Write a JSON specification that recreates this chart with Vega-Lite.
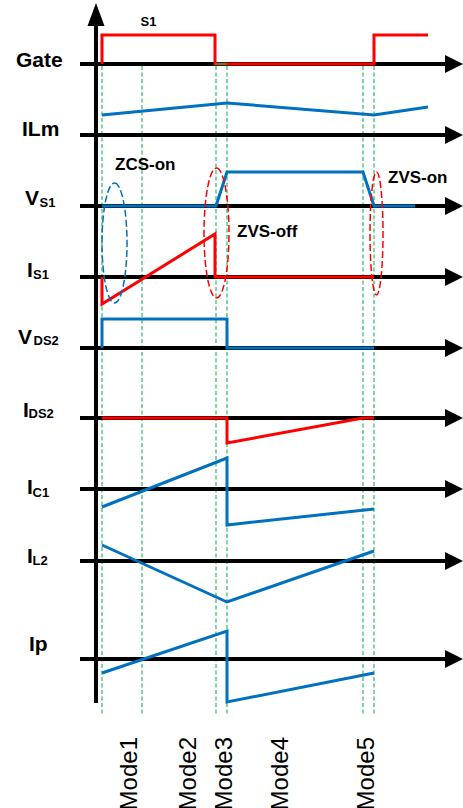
{
  "$schema": "https://vega.github.io/schema/vega-lite/v6.json",
  "width": 463,
  "height": 808,
  "padding": 0,
  "autosize": {"type": "none"},
  "background": "white",
  "config": {"view": {"stroke": null}},
  "datasets": {
    "axes": [
      {"name": "Gate", "y": 64, "x0": 80, "x1": 448, "xa": 454},
      {"name": "ILm", "y": 135, "x0": 80, "x1": 448, "xa": 454},
      {"name": "VS1", "y": 206, "x0": 80, "x1": 448, "xa": 454},
      {"name": "IS1", "y": 277, "x0": 80, "x1": 448, "xa": 454},
      {"name": "VDS2", "y": 348, "x0": 80, "x1": 448, "xa": 454},
      {"name": "IDS2", "y": 418, "x0": 80, "x1": 448, "xa": 454},
      {"name": "IC1", "y": 489, "x0": 80, "x1": 448, "xa": 454},
      {"name": "IL2", "y": 561, "x0": 80, "x1": 448, "xa": 454},
      {"name": "Ip", "y": 659, "x0": 80, "x1": 448, "xa": 454}
    ],
    "vaxis": [{"x": 96, "y0": 24, "y1": 703, "ya": 14.5}],
    "modes": [
      {"t": 102, "y0": 66, "y1": 715},
      {"t": 142, "y0": 66, "y1": 715},
      {"t": 216, "y0": 66, "y1": 715},
      {"t": 227, "y0": 66, "y1": 715},
      {"t": 363, "y0": 66, "y1": 715},
      {"t": 374, "y0": 66, "y1": 715}
    ],
    "greenseg": [{"t0": 215, "t1": 227, "y": 64}],
    "waves": [
      {"signal": "Gate", "i": 0, "t": 102, "y": 64},
      {"signal": "Gate", "i": 1, "t": 102, "y": 35},
      {"signal": "Gate", "i": 2, "t": 215, "y": 35},
      {"signal": "Gate", "i": 3, "t": 215, "y": 64},
      {"signal": "Gate", "i": 4, "t": 374, "y": 64},
      {"signal": "Gate", "i": 5, "t": 374, "y": 35},
      {"signal": "Gate", "i": 6, "t": 428, "y": 35},
      {"signal": "ILm", "i": 0, "t": 102, "y": 115},
      {"signal": "ILm", "i": 1, "t": 227, "y": 103},
      {"signal": "ILm", "i": 2, "t": 374, "y": 115},
      {"signal": "ILm", "i": 3, "t": 428, "y": 107},
      {"signal": "VS1", "i": 0, "t": 102, "y": 206},
      {"signal": "VS1", "i": 1, "t": 216, "y": 206},
      {"signal": "VS1", "i": 2, "t": 227, "y": 172},
      {"signal": "VS1", "i": 3, "t": 363, "y": 172},
      {"signal": "VS1", "i": 4, "t": 374, "y": 206},
      {"signal": "VS1", "i": 5, "t": 415, "y": 206},
      {"signal": "IS1", "i": 0, "t": 102, "y": 277},
      {"signal": "IS1", "i": 1, "t": 102, "y": 304},
      {"signal": "IS1", "i": 2, "t": 215, "y": 234},
      {"signal": "IS1", "i": 3, "t": 215, "y": 277},
      {"signal": "IS1", "i": 4, "t": 374, "y": 277},
      {"signal": "VDS2", "i": 0, "t": 102, "y": 348},
      {"signal": "VDS2", "i": 1, "t": 102, "y": 319},
      {"signal": "VDS2", "i": 2, "t": 227, "y": 319},
      {"signal": "VDS2", "i": 3, "t": 227, "y": 348},
      {"signal": "VDS2", "i": 4, "t": 374, "y": 348},
      {"signal": "IDS2", "i": 0, "t": 102, "y": 418},
      {"signal": "IDS2", "i": 1, "t": 227, "y": 418},
      {"signal": "IDS2", "i": 2, "t": 227, "y": 443},
      {"signal": "IDS2", "i": 3, "t": 363, "y": 418},
      {"signal": "IDS2", "i": 4, "t": 374, "y": 418},
      {"signal": "IC1", "i": 0, "t": 102, "y": 507},
      {"signal": "IC1", "i": 1, "t": 227, "y": 458},
      {"signal": "IC1", "i": 2, "t": 227, "y": 525},
      {"signal": "IC1", "i": 3, "t": 374, "y": 509},
      {"signal": "IL2", "i": 0, "t": 102, "y": 545},
      {"signal": "IL2", "i": 1, "t": 227, "y": 602},
      {"signal": "IL2", "i": 2, "t": 374, "y": 551},
      {"signal": "Ip", "i": 0, "t": 102, "y": 673},
      {"signal": "Ip", "i": 1, "t": 227, "y": 631},
      {"signal": "Ip", "i": 2, "t": 227, "y": 702},
      {"signal": "Ip", "i": 3, "t": 374, "y": 673}
    ],
    "labels": [
      {"text": "Gate", "x": 16, "y": 67},
      {"text": "ILm", "x": 22, "y": 136},
      {"text": "V", "x": 25, "y": 205},
      {"text": "I", "x": 27, "y": 277},
      {"text": "V", "x": 18, "y": 344},
      {"text": "I", "x": 23, "y": 417},
      {"text": "I", "x": 27, "y": 494},
      {"text": "I", "x": 27, "y": 563},
      {"text": "Ip", "x": 29, "y": 651}
    ],
    "subs": [
      {"text": "S1", "x": 39.5, "y": 207},
      {"text": "S1", "x": 33, "y": 279},
      {"text": "DS2", "x": 33.5, "y": 345},
      {"text": "DS2", "x": 28.5, "y": 418},
      {"text": "C1", "x": 32.5, "y": 497},
      {"text": "L2", "x": 32.5, "y": 565}
    ],
    "notes": [
      {"text": "ZCS-on", "x": 115, "y": 170},
      {"text": "ZVS-off", "x": 237, "y": 237},
      {"text": "ZVS-on", "x": 388, "y": 183}
    ],
    "s1": [{"text": "S1", "x": 140.5, "y": 26}],
    "modelabels": [
      {"text": "Mode1", "x": 130, "y": 737},
      {"text": "Mode2", "x": 188.5, "y": 737},
      {"text": "Mode3", "x": 225, "y": 737},
      {"text": "Mode4", "x": 281, "y": 737},
      {"text": "Mode5", "x": 366.5, "y": 737}
    ],
    "ellBlue": [{"x": 114.5, "y": 243}],
    "ellRed1": [{"x": 216.5, "y": 233}],
    "ellRed2": [{"x": 376.5, "y": 233.5}]
  },
  "layer": [
    {
      "data": {"name": "modes"},
      "mark": {"type": "rule", "color": "#00B050", "strokeWidth": 1.2, "strokeDash": [4, 2.5], "opacity": 0.85},
      "encoding": {
        "x": {"field": "t", "type": "quantitative", "scale": {"domain": [0, 463], "nice": false, "zero": false}, "axis": null},
        "y": {"field": "y0", "type": "quantitative", "scale": {"domain": [0, 808], "reverse": true, "nice": false, "zero": false}, "axis": null},
        "y2": {"field": "y1"}
      }
    },
    {
      "data": {"name": "axes"},
      "mark": {"type": "rule", "color": "black", "strokeWidth": 4},
      "encoding": {
        "x": {"field": "x0", "type": "quantitative", "scale": {"domain": [0, 463], "nice": false, "zero": false}, "axis": null},
        "x2": {"field": "x1"},
        "y": {"field": "y", "type": "quantitative", "scale": {"domain": [0, 808], "reverse": true, "nice": false, "zero": false}, "axis": null}
      }
    },
    {
      "data": {"name": "vaxis"},
      "mark": {"type": "rule", "color": "black", "strokeWidth": 4},
      "encoding": {
        "x": {"field": "x", "type": "quantitative", "scale": {"domain": [0, 463], "nice": false, "zero": false}, "axis": null},
        "y": {"field": "y0", "type": "quantitative", "scale": {"domain": [0, 808], "reverse": true, "nice": false, "zero": false}, "axis": null},
        "y2": {"field": "y1"}
      }
    },
    {
      "data": {"name": "axes"},
      "mark": {"type": "point", "shape": "M-1,-1L1,0L-1,1Z", "size": 324, "filled": true, "color": "black", "opacity": 1, "strokeWidth": 0},
      "encoding": {
        "x": {"field": "xa", "type": "quantitative", "scale": {"domain": [0, 463], "nice": false, "zero": false}, "axis": null},
        "y": {"field": "y", "type": "quantitative", "scale": {"domain": [0, 808], "reverse": true, "nice": false, "zero": false}, "axis": null}
      }
    },
    {
      "data": {"name": "vaxis"},
      "mark": {"type": "point", "shape": "M-0.74,1L0,-1L0.74,1Z", "size": 529, "filled": true, "color": "black", "opacity": 1, "strokeWidth": 0},
      "encoding": {
        "x": {"field": "x", "type": "quantitative", "scale": {"domain": [0, 463], "nice": false, "zero": false}, "axis": null},
        "y": {"field": "ya", "type": "quantitative", "scale": {"domain": [0, 808], "reverse": true, "nice": false, "zero": false}, "axis": null}
      }
    },
    {
      "data": {"name": "waves"},
      "mark": {"type": "line", "strokeWidth": 3, "strokeJoin": "miter", "strokeCap": "butt"},
      "encoding": {
        "x": {"field": "t", "type": "quantitative", "scale": {"domain": [0, 463], "nice": false, "zero": false}, "axis": null},
        "y": {"field": "y", "type": "quantitative", "scale": {"domain": [0, 808], "reverse": true, "nice": false, "zero": false}, "axis": null},
        "order": {"field": "i", "type": "quantitative"},
        "detail": {"field": "signal", "type": "nominal"},
        "color": {
          "field": "signal", "type": "nominal", "legend": null,
          "scale": {
            "domain": ["Gate", "ILm", "VS1", "IS1", "VDS2", "IDS2", "IC1", "IL2", "Ip"],
            "range": ["#FF0000", "#0070C0", "#0070C0", "#FF0000", "#0070C0", "#FF0000", "#0070C0", "#0070C0", "#0070C0"]
          }
        }
      }
    },
    {
      "data": {"name": "greenseg"},
      "mark": {"type": "rule", "color": "#00B050", "strokeWidth": 1.5},
      "encoding": {
        "x": {"field": "t0", "type": "quantitative", "scale": {"domain": [0, 463], "nice": false, "zero": false}, "axis": null},
        "x2": {"field": "t1"},
        "y": {"field": "y", "type": "quantitative", "scale": {"domain": [0, 808], "reverse": true, "nice": false, "zero": false}, "axis": null}
      }
    },
    {
      "data": {"name": "ellBlue"},
      "mark": {"type": "point", "shape": "M0,-1C0.115,-1,0.2083,-0.5523,0.2083,0C0.2083,0.5523,0.115,1,0,1C-0.115,1,-0.2083,0.5523,-0.2083,0C-0.2083,-0.5523,-0.115,-1,0,-1Z", "size": 14400, "filled": false, "stroke": "#0070C0", "strokeWidth": 1.5, "strokeDash": [7, 3], "opacity": 1},
      "encoding": {
        "x": {"field": "x", "type": "quantitative", "scale": {"domain": [0, 463], "nice": false, "zero": false}, "axis": null},
        "y": {"field": "y", "type": "quantitative", "scale": {"domain": [0, 808], "reverse": true, "nice": false, "zero": false}, "axis": null}
      }
    },
    {
      "data": {"name": "ellRed1"},
      "mark": {"type": "point", "shape": "M0,-1C0.1062,-1,0.1923,-0.5523,0.1923,0C0.1923,0.5523,0.1062,1,0,1C-0.1062,1,-0.1923,0.5523,-0.1923,0C-0.1923,-0.5523,-0.1062,-1,0,-1Z", "size": 16900, "filled": false, "stroke": "#FF0000", "strokeWidth": 1.5, "strokeDash": [7, 3], "opacity": 1},
      "encoding": {
        "x": {"field": "x", "type": "quantitative", "scale": {"domain": [0, 463], "nice": false, "zero": false}, "axis": null},
        "y": {"field": "y", "type": "quantitative", "scale": {"domain": [0, 808], "reverse": true, "nice": false, "zero": false}, "axis": null}
      }
    },
    {
      "data": {"name": "ellRed2"},
      "mark": {"type": "point", "shape": "M0,-1C0.0584,-1,0.1057,-0.5523,0.1057,0C0.1057,0.5523,0.0584,1,0,1C-0.0584,1,-0.1057,0.5523,-0.1057,0C-0.1057,-0.5523,-0.0584,-1,0,-1Z", "size": 15129, "filled": false, "stroke": "#FF0000", "strokeWidth": 1.5, "strokeDash": [7, 3], "opacity": 1},
      "encoding": {
        "x": {"field": "x", "type": "quantitative", "scale": {"domain": [0, 463], "nice": false, "zero": false}, "axis": null},
        "y": {"field": "y", "type": "quantitative", "scale": {"domain": [0, 808], "reverse": true, "nice": false, "zero": false}, "axis": null}
      }
    },
    {
      "data": {"name": "labels"},
      "mark": {"type": "text", "font": "Liberation Sans", "fontWeight": "bold", "fontSize": 21, "align": "left", "baseline": "alphabetic", "color": "black"},
      "encoding": {
        "x": {"field": "x", "type": "quantitative", "scale": {"domain": [0, 463], "nice": false, "zero": false}, "axis": null},
        "y": {"field": "y", "type": "quantitative", "scale": {"domain": [0, 808], "reverse": true, "nice": false, "zero": false}, "axis": null},
        "text": {"field": "text"}
      }
    },
    {
      "data": {"name": "subs"},
      "mark": {"type": "text", "font": "Liberation Sans", "fontWeight": "bold", "fontSize": 13, "align": "left", "baseline": "alphabetic", "color": "black"},
      "encoding": {
        "x": {"field": "x", "type": "quantitative", "scale": {"domain": [0, 463], "nice": false, "zero": false}, "axis": null},
        "y": {"field": "y", "type": "quantitative", "scale": {"domain": [0, 808], "reverse": true, "nice": false, "zero": false}, "axis": null},
        "text": {"field": "text"}
      }
    },
    {
      "data": {"name": "notes"},
      "mark": {"type": "text", "font": "Liberation Sans", "fontWeight": "bold", "fontSize": 17, "align": "left", "baseline": "alphabetic", "color": "black"},
      "encoding": {
        "x": {"field": "x", "type": "quantitative", "scale": {"domain": [0, 463], "nice": false, "zero": false}, "axis": null},
        "y": {"field": "y", "type": "quantitative", "scale": {"domain": [0, 808], "reverse": true, "nice": false, "zero": false}, "axis": null},
        "text": {"field": "text"}
      }
    },
    {
      "data": {"name": "s1"},
      "mark": {"type": "text", "font": "Liberation Sans", "fontWeight": "bold", "fontSize": 13, "align": "left", "baseline": "alphabetic", "color": "black"},
      "encoding": {
        "x": {"field": "x", "type": "quantitative", "scale": {"domain": [0, 463], "nice": false, "zero": false}, "axis": null},
        "y": {"field": "y", "type": "quantitative", "scale": {"domain": [0, 808], "reverse": true, "nice": false, "zero": false}, "axis": null},
        "text": {"field": "text"}
      }
    },
    {
      "data": {"name": "modelabels"},
      "mark": {"type": "text", "font": "Liberation Sans", "fontSize": 24, "angle": 270, "align": "right", "baseline": "middle", "color": "black"},
      "encoding": {
        "x": {"field": "x", "type": "quantitative", "scale": {"domain": [0, 463], "nice": false, "zero": false}, "axis": null},
        "y": {"field": "y", "type": "quantitative", "scale": {"domain": [0, 808], "reverse": true, "nice": false, "zero": false}, "axis": null},
        "text": {"field": "text"}
      }
    }
  ]
}
